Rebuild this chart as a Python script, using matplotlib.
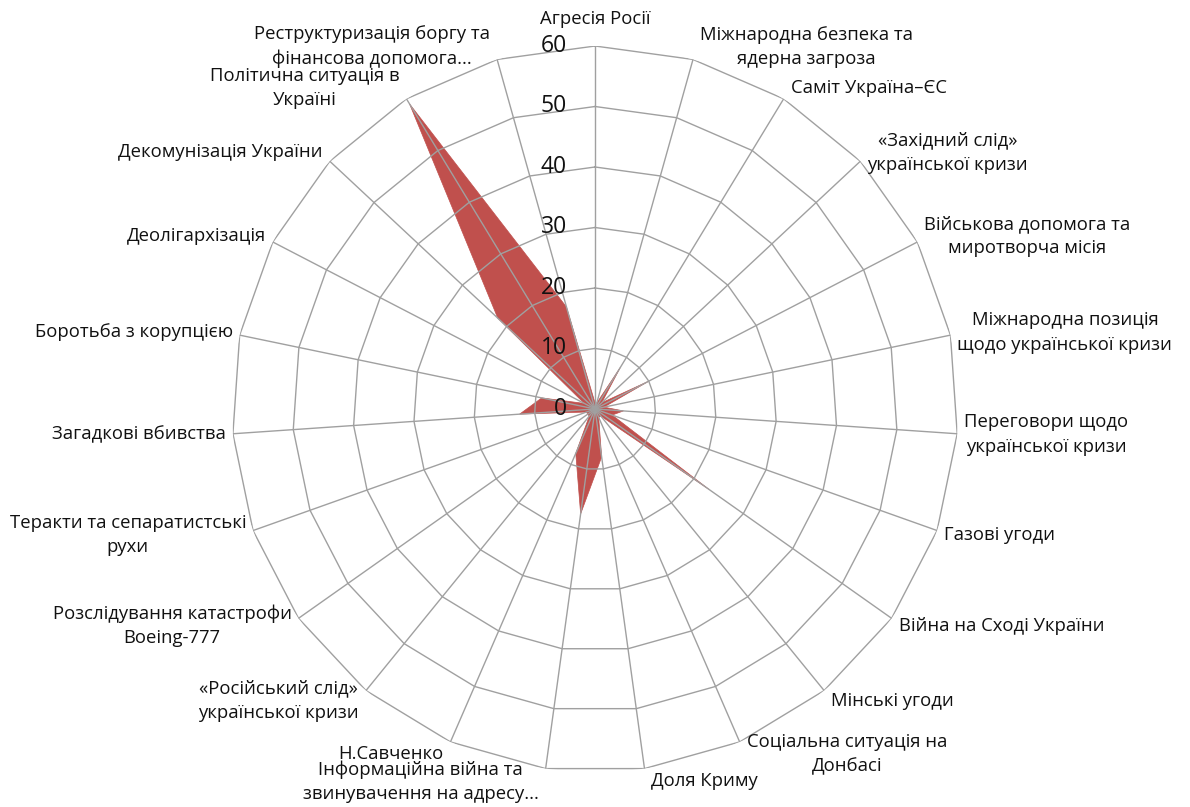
import numpy as np
import matplotlib
matplotlib.use('Agg')
import matplotlib.pyplot as plt

plt.rcParams['font.family'] = ['Open Sans', 'DejaVu Sans']

categories = [
    'Агресія Росії',
    'Міжнародна безпека та\nядерна загроза',
    'Саміт Україна–ЄС',
    '«Західний слід»\nукраїнської кризи',
    'Військова допомога та\nмиротворча місія',
    'Міжнародна позиція\nщодо української кризи',
    'Переговори щодо\nукраїнської кризи',
    'Газові угоди',
    'Війна на Сході України',
    'Мінські угоди',
    'Соціальна ситуація на\nДонбасі',
    'Доля Криму',
    'Інформаційна війна та\nзвинувачення на адресу...',
    'Н.Савченко',
    '«Російський слід»\nукраїнської кризи',
    'Розслідування катастрофи\nBoeing-777',
    'Теракти та сепаратистські\nрухи',
    'Загадкові вбивства',
    'Боротьба з корупцією',
    'Деолігархізація',
    'Декомунізація України',
    'Політична ситуація в\nУкраїні',
    'Реструктуризація боргу та\nфінансова допомога...',
]
values = [1, 1, 8, 1.5, 10, 1.5, 4.7, 3, 23, 1.5, 1.5, 8, 17.5, 8,
          1.5, 1.5, 1.5, 12.5, 9, 2, 22, 59, 17.5]
ring_ticks = [0, 10, 20, 30, 40, 50, 60]

n = len(categories)
theta = np.arange(n) * 2 * np.pi / n
theta_closed = np.append(theta, theta[0])

fig = plt.figure(figsize=(11.9, 8.07), dpi=100)
ax = fig.add_axes([0.195, 0.0434, 0.6101, 0.8996], projection='polar')
ax.set_theta_offset(np.pi / 2)
ax.set_theta_direction(-1)
ax.set_ylim(0, 60)
ax.grid(False)
ax.set_xticks([])
ax.set_yticks([])
ax.spines['polar'].set_visible(False)

grid_col = '#a0a0a0'
# series fill, grid drawn over it like Excel does
vals_closed = np.append(values, values[0])
ax.fill(theta_closed, vals_closed, color='#c0504d', lw=0.5,
        edgecolor='#c0504d', zorder=1)

for r in ring_ticks[1:]:
    ax.plot(theta_closed, [r] * (n + 1), color=grid_col, lw=1.0, zorder=2)
for t in theta:
    ax.plot([t, t], [0, 60], color=grid_col, lw=1.0, zorder=2)

for r in ring_ticks:
    ax.annotate(str(r), xy=(0, r), xytext=(-28, 0), textcoords='offset pixels',
                ha='right', va='center', fontsize=16.5, color='#111111', zorder=3)

# category labels sit just outside the outer ring
for t, lab in zip(theta, categories):
    s, c = np.sin(t), np.cos(t)
    if abs(s) < 0.05:
        ha, dx, dy, va = 'center', 0, 18, 'bottom'
    else:
        ha = 'left' if s > 0 else 'right'
        dx = 7 if s > 0 else -7
        dy = 13 * c
        va = 'center'
    ax.annotate(lab, xy=(t, 60), xytext=(dx, dy), textcoords='offset pixels',
                ha=ha, va=va, multialignment='center', fontsize=13.3,
                linespacing=1.45, color='#111111', annotation_clip=False)

plt.savefig('out.png', dpi=100)
plt.close()
